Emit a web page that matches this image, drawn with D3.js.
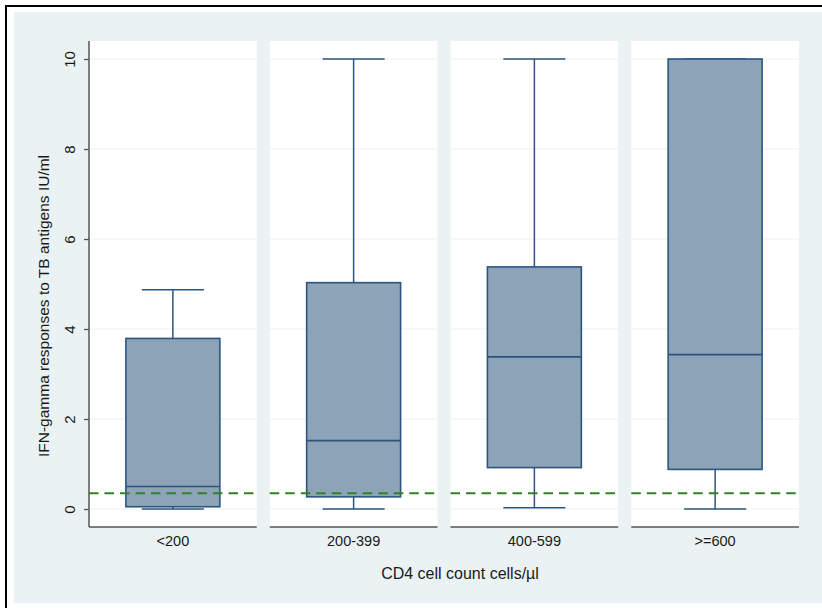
<!DOCTYPE html>
<html>
<head>
<meta charset="utf-8">
<script src="https://cdn.jsdelivr.net/npm/d3@7"></script>
<style>
  html, body { margin: 0; padding: 0; background: #ffffff; }
  svg { display: block; font-family: "Liberation Sans", Arial, sans-serif; }
</style>
</head>
<body>
<svg id="chart" width="822" height="608"></svg>
<script>
// ---- data ----
const categories = ["<200", "200-399", "400-599", ">=600"];
const lowerWhisker = [0, 0, 0.03, 0];
const q1 = [0.05, 0.27, 0.92, 0.88];
const median = [0.5, 1.52, 3.38, 3.43];
const q3 = [3.79, 5.03, 5.38, 10];
const upperWhisker = [4.87, 10, 10, 10];
const cutoff = 0.35;
const yTicks = [0, 2, 4, 6, 8, 10];
const yTitle = "IFN-gamma responses to TB antigens IU/ml";
const xTitle = "CD4 cell count cells/\u00b5l";

const svg = d3.select("#chart");
const W = 822, H = 608;

// backgrounds
svg.append("rect").attr("x", 0).attr("y", 0).attr("width", W).attr("height", H).attr("fill", "#ffffff");
svg.append("rect").attr("x", 14).attr("y", 12).attr("width", W - 14).attr("height", 591).attr("fill", "#eaf2f3");
svg.append("rect").attr("x", 6).attr("y", 6).attr("width", 840).attr("height", 640)
  .attr("fill", "none").attr("stroke", "#000").attr("stroke-width", 2);

const plotTop = 41, plotBottom = 527, plotLeft = 89, plotRight = 799;

const x = d3.scaleBand().domain(categories).range([plotLeft, plotRight]).paddingInner(0.072).paddingOuter(0);
const y = d3.scaleLinear().domain([-0.4, 10.4]).range([plotBottom, plotTop]);

const bw = x.bandwidth();
const boxW = bw * 0.56;
const capW = bw * 0.37;

const data = categories.map((c, i) => ({
  cat: c, lo: lowerWhisker[i], q1: q1[i], med: median[i], q3: q3[i], hi: upperWhisker[i]
}));

// panels
const panels = svg.append("g").selectAll("g").data(data).join("g")
  .attr("transform", d => `translate(${x(d.cat)},0)`);

panels.append("rect")
  .attr("x", 0).attr("y", plotTop).attr("width", bw).attr("height", plotBottom - plotTop)
  .attr("fill", "#ffffff");

// gridlines
panels.each(function () {
  d3.select(this).selectAll("line.grid").data(yTicks).join("line")
    .attr("class", "grid")
    .attr("x1", 0).attr("x2", bw)
    .attr("y1", t => y(t)).attr("y2", t => y(t))
    .attr("stroke", "#eaf2f3").attr("stroke-width", 1.2);
});

// bottom axis line per panel
panels.append("line")
  .attr("x1", 0).attr("x2", bw).attr("y1", plotBottom).attr("y2", plotBottom)
  .attr("stroke", "#555555").attr("stroke-width", 1.3);

const boxStroke = "#2b5580";
const cx = bw / 2;

// whiskers
panels.append("line")
  .attr("x1", cx).attr("x2", cx).attr("y1", d => y(d.q3)).attr("y2", d => y(d.hi))
  .attr("stroke", boxStroke).attr("stroke-width", 1.5);
panels.append("line")
  .attr("x1", cx).attr("x2", cx).attr("y1", d => y(d.q1)).attr("y2", d => y(d.lo))
  .attr("stroke", boxStroke).attr("stroke-width", 1.5);
panels.append("line")
  .attr("x1", cx - capW / 2).attr("x2", cx + capW / 2).attr("y1", d => y(d.hi)).attr("y2", d => y(d.hi))
  .attr("stroke", boxStroke).attr("stroke-width", 1.5);
panels.append("line")
  .attr("x1", cx - capW / 2).attr("x2", cx + capW / 2).attr("y1", d => y(d.lo)).attr("y2", d => y(d.lo))
  .attr("stroke", boxStroke).attr("stroke-width", 1.5);

// boxes
panels.append("rect")
  .attr("x", cx - boxW / 2).attr("width", boxW)
  .attr("y", d => y(d.q3)).attr("height", d => y(d.q1) - y(d.q3))
  .attr("fill", "#8ca3b8").attr("stroke", boxStroke).attr("stroke-width", 1.6);
panels.append("line")
  .attr("x1", cx - boxW / 2).attr("x2", cx + boxW / 2).attr("y1", d => y(d.med)).attr("y2", d => y(d.med))
  .attr("stroke", boxStroke).attr("stroke-width", 1.6);

// cutoff dashed line
panels.append("line")
  .attr("x1", 0).attr("x2", bw).attr("y1", y(cutoff)).attr("y2", y(cutoff))
  .attr("stroke", "#357f28").attr("stroke-width", 1.8).attr("stroke-dasharray", "9.5,6");

// x category labels
panels.append("text")
  .attr("x", cx).attr("y", 546)
  .attr("text-anchor", "middle").attr("font-size", 14.5).attr("fill", "#1a1a1a")
  .text(d => d.cat);

// y axis
const yAxis = svg.append("g").attr("transform", `translate(${plotLeft},0)`)
  .call(d3.axisLeft(y).tickValues(yTicks).tickSize(5).tickFormat(d3.format("d")));
yAxis.select(".domain").attr("d", `M0,${plotTop}V${plotBottom}`).attr("stroke", "#555555").attr("stroke-width", 1.5);
yAxis.selectAll(".tick line").attr("stroke", "#555555").attr("stroke-width", 1.3);
yAxis.selectAll(".tick text")
  .attr("transform", "rotate(-90)")
  .attr("x", 0).attr("y", -14).attr("dy", 0)
  .attr("text-anchor", "middle")
  .attr("font-size", 15).attr("fill", "#1a1a1a")
  .attr("font-family", "Liberation Sans, Arial, sans-serif");

// axis titles
svg.append("text")
  .attr("transform", `translate(49,${(plotTop + plotBottom) / 2 + 22}) rotate(-90)`)
  .attr("text-anchor", "middle").attr("font-size", 15.5).attr("fill", "#1a1a1a")
  .text(yTitle);

svg.append("text")
  .attr("x", 460).attr("y", 579)
  .attr("text-anchor", "middle").attr("font-size", 16).attr("fill", "#1a1a1a")
  .text(xTitle);
</script>
</body>
</html>
